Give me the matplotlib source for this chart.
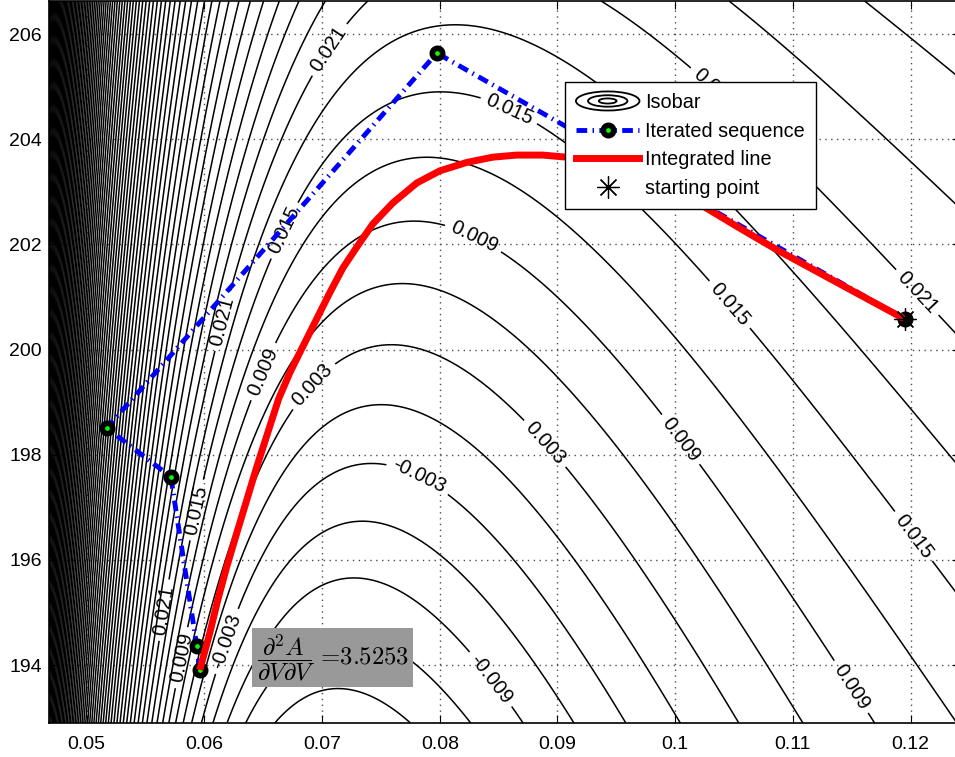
import numpy as np
import matplotlib
matplotlib.use("Agg")
import matplotlib.pyplot as plt
from matplotlib.lines import Line2D
from matplotlib.patches import Ellipse
from matplotlib.legend_handler import HandlerBase
from matplotlib.ticker import FuncFormatter

# cubic equation of state (Peng-Robinson form), pressure relative to the start isobar
B = 0.03110
R_EFF = 8.322447e-05
A0 = 3.510734e-03
A1 = 7.117684e-06
P_REF = -2.037067e-04

def isobar_field(V, T):
    a = A0 - A1 * (T - 200.0)
    return R_EFF * T / (V - B) - a / (V**2 + 2 * B * V - B**2) - P_REF

# iterated sequence (V, T)
iter_V = [0.11951, 0.07975, 0.05171, 0.05715, 0.05935, 0.05961]
iter_T = [200.58, 205.64, 198.51, 197.58, 194.37, 193.91]

# integrated line from the starting point to the converged point
line_V = [0.11951, 0.11398, 0.10863, 0.10549, 0.10251, 0.10124, 0.09869, 0.09614,
          0.09359, 0.09079, 0.08875, 0.08654, 0.08450, 0.08229, 0.08000, 0.07805,
          0.07601, 0.07431, 0.07295, 0.07176, 0.07065, 0.06980, 0.06895, 0.06810,
          0.06726, 0.06632, 0.06540, 0.06445, 0.06360, 0.06275, 0.06190, 0.06114,
          0.06046, 0.05961]
line_T = [200.58, 201.25, 201.90, 202.31, 202.71, 202.88, 203.18, 203.41,
          203.56, 203.66, 203.70, 203.70, 203.66, 203.56, 203.40, 203.17,
          202.79, 202.39, 201.95, 201.55, 201.08, 200.70, 200.32, 199.94,
          199.56, 199.07, 198.43, 197.77, 197.14, 196.51, 195.87, 195.24,
          194.61, 193.91]

start_V, start_T = 0.11951, 200.58
d2A_value = 3.5253

labelled_levels = [-0.009, -0.003, 0.003, 0.009, 0.015, 0.021]
label_spots = [(0.07065, 205.70), (0.06131, 200.56), (0.05647, 195.05), (0.12053, 201.08),
               (0.10336, 204.98), (0.06666, 202.28), (0.05935, 196.95), (0.08578, 204.50),
               (0.10438, 200.81), (0.12019, 196.44), (0.06471, 199.61), (0.05766, 194.16),
               (0.08280, 202.10), (0.10039, 198.28), (0.11483, 193.57), (0.06896, 199.37),
               (0.06156, 194.48), (0.08892, 198.21), (0.07805, 197.52), (0.08425, 193.72)]

xlim = (0.0468, 0.1242)
ylim = (192.9, 206.63)

plt.rcParams['font.family'] = ['Liberation Sans', 'DejaVu Sans']
plt.rcParams['mathtext.fontset'] = 'cm'


class IsobarIcon:
    pass


class HandlerIsobar(HandlerBase):
    def create_artists(self, legend, orig_handle, xdescent, ydescent, width, height,
                       fontsize, trans):
        cx = width / 2 - xdescent
        cy = height / 2 - ydescent
        arts = []
        for w, h in [(1.0, 0.30), (0.62, 0.18), (0.28, 0.08)]:
            arts.append(Ellipse((cx, cy), width * w, width * h, fill=False,
                                ec='k', lw=1.3, transform=trans))
        return arts


fig = plt.figure(figsize=(9.55, 7.57), dpi=100)
ax = fig.add_axes([49 / 955, 34 / 757, 911 / 955, 722 / 757])

vv = np.linspace(xlim[0], xlim[1], 1800)
tt = np.linspace(ylim[0], ylim[1], 500)
VV, TT = np.meshgrid(vv, tt)
F = isobar_field(VV, TT)
levels = np.round(np.arange(-0.045, F.max(), 0.003), 6)
plain = [lv for lv in levels if not np.any(np.isclose(lv, labelled_levels))]
ax.contour(VV, TT, F, levels=plain, colors='k', linewidths=1.1,
           linestyles='solid', zorder=2)
cs = ax.contour(VV, TT, F, levels=labelled_levels, colors='k', linewidths=1.1,
                linestyles='solid', zorder=2)
ax.clabel(cs, manual=label_spots, inline=True, inline_spacing=6, fontsize=14.5, fmt='%g')

ax.plot(iter_V, iter_T, color='b', lw=3.5, dashes=(2.2, 1.1, 0.3, 1.1),
        marker='o', ms=7.5, mew=4, mfc=(0, 1, 0), mec='k', zorder=4)
ax.plot(line_V, line_T, color='r', lw=5, solid_capstyle='butt',
        solid_joinstyle='round', zorder=5)
ax.plot([start_V], [start_T], ls='none', marker=(8, 2, 0), ms=16, mew=0.9,
        color='k', zorder=6)

ax.text(0.06445, 194.14, r'$\dfrac{\partial^2 A}{\partial V\partial V}$ =%.4f' % d2A_value,
        fontsize=17.8, family='cmr10', va='center', ha='left', zorder=7,
        bbox=dict(boxstyle='square,pad=0.18', fc='0.6', ec='none'))

ax.set_xlim(xlim)
ax.set_ylim(ylim)
ax.set_xticks([0.05, 0.06, 0.07, 0.08, 0.09, 0.10, 0.11, 0.12])
ax.set_yticks([194, 196, 198, 200, 202, 204, 206])
ax.xaxis.set_major_formatter(FuncFormatter(lambda v, p: '%g' % round(v, 3)))
ax.tick_params(direction='in', length=6, width=0.8, top=True, right=True, labelsize=14)
ax.tick_params(axis='x', pad=9.5)
ax.tick_params(axis='y', pad=5)
ax.grid(True, linestyle=(0, (1, 3.2)), color='0.3', lw=1.0, zorder=1)
ax.set_axisbelow(True)
for s in ax.spines.values():
    s.set_linewidth(1.2)

handles = [
    IsobarIcon(),
    Line2D([], [], color='b', lw=3.5, dashes=(2.2, 1.1, 0.3, 1.1), marker='o', ms=7.5,
           mew=4, mfc=(0, 1, 0), mec='k'),
    Line2D([], [], color='r', lw=5),
    Line2D([], [], ls='none', marker=(8, 2, 0), ms=16, mew=0.9, color='k'),
]
labels = ['Isobar', 'Iterated sequence', 'Integrated line', 'starting point']
leg = ax.legend(handles, labels, handler_map={IsobarIcon: HandlerIsobar()},
                loc='upper left', bbox_to_anchor=(565 / 955, 1 - 82 / 757),
                bbox_transform=fig.transFigure, borderaxespad=0, fontsize=14.3,
                handlelength=3.2, handletextpad=0.3, labelspacing=0.49,
                borderpad=0.55, numpoints=1, fancybox=False, framealpha=1,
                edgecolor='k')
leg.get_frame().set_linewidth(1.0)
leg.set_zorder(10)

fig.savefig("out.png", dpi=100)
